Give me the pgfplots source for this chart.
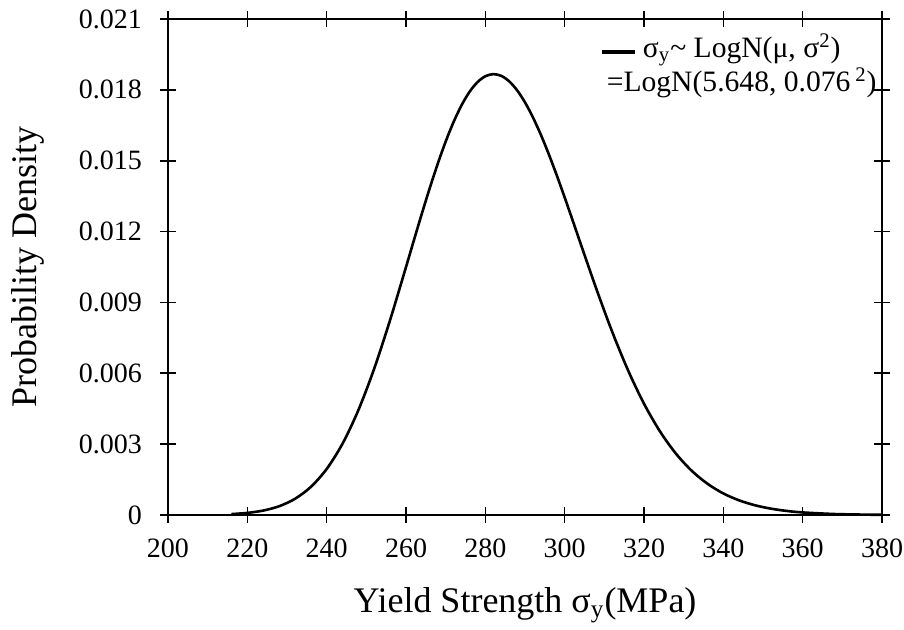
\documentclass[border=0pt]{standalone}
\usepackage{fontspec}
\setmainfont{Liberation Serif}
\usepackage{pgfplots}
\pgfplotsset{compat=1.18}
\pgfplotstableread{
x y
216 0.00003909
220 0.00008863
224 0.0001873
228 0.0003694
232 0.0006832
236 0.0011872
240 0.0019480
244 0.0030197
248 0.0044414
252 0.0062053
256 0.0082603
260 0.010498
262 0.011638
264 0.012762
266 0.013848
268 0.014872
270 0.015809
272 0.016641
274 0.017347
276 0.017912
278 0.018324
280 0.018577
282 0.018666
284 0.018593
286 0.018363
288 0.017984
290 0.017470
292 0.016836
294 0.016098
296 0.015274
298 0.014384
300 0.013446
302 0.012479
304 0.011500
308 0.0095666
312 0.0077490
316 0.0061180
320 0.0047126
324 0.0035460
328 0.0026081
332 0.0018764
336 0.0013222
340 0.0009125
344 0.0006179
348 0.0004106
352 0.0002679
356 0.0001718
360 0.0001084
368 0.0000411
376 0.0000147
380 0.0000086
}\pdfdata
\begin{document}
\begin{tikzpicture}
\pgfplotsset{
  common/.style={width=357pt,height=248pt,scale only axis,
    xmin=200,xmax=380,ymin=0,ymax=0.021,
    axis line style={line width=0.8pt},
    tick style={black,line width=0.8pt},
    tick pos=both,
    scaled y ticks=false,
  }
}
\begin{axis}[common, clip=false,
  xtick={200,220,240,260,280,300,320,340,360,380},
  ytick={0,0.003,0.006,0.009,0.012,0.015,0.018,0.021},
  yticklabels={0,0.003,0.006,0.009,0.012,0.015,0.018,0.021},
  xticklabels={200,220,240,260,280,300,320,340,360,380},
  tick align=center, major tick length=8pt,
  ticklabel style={font=\fontsize{14}{16}\selectfont},
  yticklabel style={xshift=-5.5pt},
  xticklabel style={yshift=-4.5pt},
  legend style={draw=none,fill=none,at={(rel axis cs:1,1)},anchor=north east,
    xshift=2.5pt,yshift=-3pt,font=\fontsize{14.8}{16.5}\selectfont},
  legend cell align=left,
  legend image code/.code={},
]
\addplot[black,line width=1.3pt,smooth] table[x=x,y=y] {\pdfdata};
\addlegendentry{\begin{tabular}[t]{@{}c@{}}\llap{\rule[2pt]{16.5pt}{2pt}\hspace{4pt}}σ\textsubscript{y}\textasciitilde\ LogN(μ, σ\textsuperscript{2})\\=LogN(5.648, 0.076\,\textsuperscript{2})\end{tabular}}
\node[rotate=90,anchor=center,font=\fontsize{18}{21}\selectfont] at ([xshift=-70pt]rel axis cs:0,0.5) {Probability Density};
\node[anchor=center,font=\fontsize{18}{21}\selectfont] at ([yshift=-45pt]rel axis cs:0.5,0) {Yield Strength σ\textsubscript{y}(MPa)};
\end{axis}
\begin{axis}[common,
  xtick=\empty, ytick=\empty,
  minor xtick={210,230,250,270,290,310,330,350,370},
  minor ytick={0.0015,0.0045,0.0075,0.0105,0.0135,0.0165,0.0195},
  tick align=outside, minor tick length=3.5pt,
]
\end{axis}
\pgfresetboundingbox
\path[use as bounding box] (-84pt,-57.5pt) rectangle (368pt,257.5pt);
\end{tikzpicture}
\end{document}
